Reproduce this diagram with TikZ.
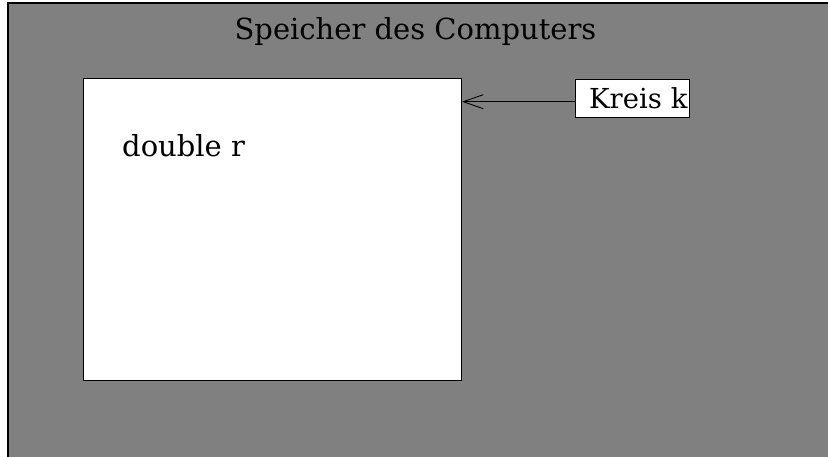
\documentclass[tikz,border=0pt]{standalone}
\usepackage{fontspec}
\setmainfont{DejaVu Serif}
\usetikzlibrary{arrows.meta}
\definecolor{bggray}{HTML}{808080}
\begin{document}
\begin{tikzpicture}[x=1pt,y=-1pt,
  lbl/.style={font=\fontsize{29}{34}\selectfont, inner sep=0pt, anchor=base west},
  whitebox/.style={draw, fill=white, inner sep=0pt, line width=0.9pt, anchor=north west},
  ptr/.style={line width=0.9pt, -{Straight Barb[length=20pt,width=14pt,line width=0.9pt]}}]
\useasboundingbox (0,0) rectangle (828,456);
\begin{scope}
\clip (0,0) rectangle (828,456);
\draw[fill=bggray, line width=1.3pt] (8,3) rectangle (840,470);
\end{scope}
\node[lbl, anchor=base] (title) at (415.5,39) {Speicher des Computers};
\node[whitebox, minimum width=378pt, minimum height=302pt] (mem) at (83,78) {};
\node[lbl] (var) at (122,156) {double r};
\node[whitebox, minimum width=114pt, minimum height=38pt] (kbox) at (575,78.7) {};
\node[lbl, font=\fontsize{27.5}{33}\selectfont] (ktext) at (589,108) {Kreis k};
\coordinate (tip) at (mem.east |- 0,101.7);
\draw[ptr] (kbox.west |- tip) -- (tip);
\end{tikzpicture}
\end{document}
